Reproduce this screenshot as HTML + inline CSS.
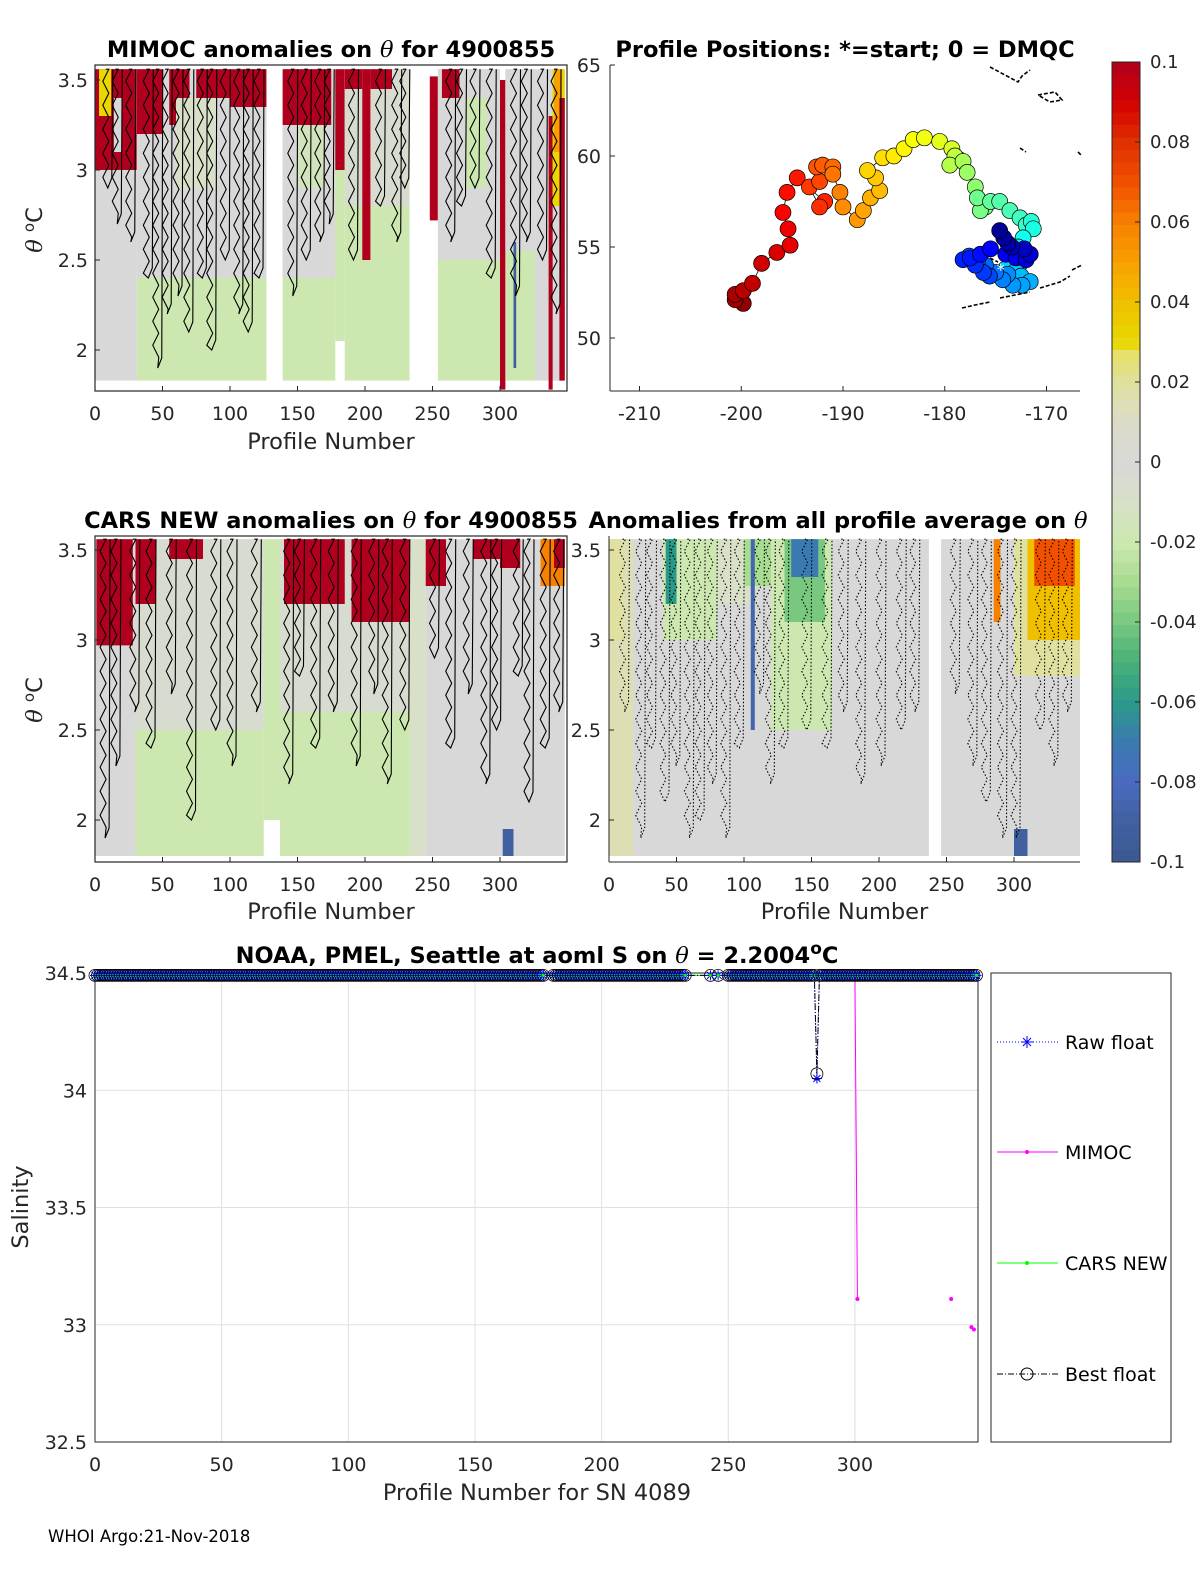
<!DOCTYPE html>
<html><head><meta charset="utf-8"><style>
body{margin:0;background:#fff}
svg{display:block;font-family:"DejaVu Sans","Liberation Sans",sans-serif}
</style></head><body>
<svg id="fig" width="1200" height="1575" viewBox="0 0 1200 1575" xmlns="http://www.w3.org/2000/svg">
<rect width="1200" height="1575" fill="#fff"/>
<defs>
<clipPath id="c1"><rect x="95" y="65" width="472" height="326"/></clipPath>
<clipPath id="c3"><rect x="95" y="536" width="472" height="326"/></clipPath>
<clipPath id="c4"><rect x="609" y="536" width="471" height="326"/></clipPath>
</defs>
<g id="p1" clip-path="url(#c1)"></g>
<g id="p3" clip-path="url(#c3)"></g>
<g id="p4" clip-path="url(#c4)"></g>
<g id="map"></g>
<g id="cbar"></g>
<g id="bot"></g>
<g id="axes"></g>
<text x="48" y="1542" font-size="16.5" fill="#000">WHOI Argo:21-Nov-2018</text>
</svg>
<script>
// ---------- heatmap data: [profileStart, profileEnd, thetaLow, thetaHigh, anomaly]
const mimocPatches = [
[0,31,1.83,3.56,0],[0,31,3.0,3.56,0.1],[3,12,3.3,3.56,0.03],[14,20,3.1,3.4,0],
[31,127,1.83,3.56,-0.02],[31,127,2.4,3.56,0],[31,50,3.2,3.56,0.1],[55,70,3.25,3.56,0.1],[75,100,3.4,3.56,0.1],[100,127,3.35,3.56,0.1],[60,90,2.9,3.4,-0.01],
[139,178,1.83,3.56,-0.02],[139,178,2.4,3.56,0],[139,175,3.25,3.56,0.1],[150,170,2.9,3.25,-0.015],
[178,185,2.05,3.56,-0.02],[178,185,3.0,3.56,0.1],
[185,233,1.83,3.56,-0.02],[185,233,2.8,3.56,-0.005],[198,204,2.5,3.56,0.1],[185,198,3.45,3.56,0.1],[204,220,3.45,3.56,0.1],
[248,254,2.72,3.52,0.1],
[254,300,1.83,3.56,-0.02],[254,300,2.5,3.56,0],[257,270,3.4,3.56,0.1],[275,290,2.9,3.4,-0.02],
[300,304,1.78,3.5,0.1],
[304,326,1.83,3.56,-0.02],[304,326,2.55,3.56,0],[310,312,1.9,2.6,-0.09],
[326,348,1.83,3.56,0],[336,339,1.78,3.3,0.1],[339,348,2.8,3.56,0.03],[340,346,3.1,3.56,0.05],[344,348,1.83,3.4,0.1]
];
const carsPatches = [
[0,30,1.8,3.56,0],[1,28,2.97,3.56,0.1],
[30,125,1.8,3.56,-0.02],[30,125,2.5,3.56,-0.005],[30,45,3.2,3.56,0.1],[55,80,3.45,3.56,0.1],
[125,137,2.0,3.56,-0.02],
[137,233,1.8,3.56,-0.02],[137,233,2.6,3.56,-0.005],[140,185,3.2,3.56,0.1],[190,233,3.1,3.56,0.1],
[233,245,1.8,3.56,-0.01],
[245,300,1.8,3.56,0],[245,260,3.3,3.56,0.1],[280,300,3.45,3.56,0.1],
[300,348,1.8,3.56,0],[300,315,3.4,3.56,0.1],[330,348,3.3,3.56,0.06],[340,348,3.4,3.56,0.1],[302,310,1.8,1.95,-0.09]
];
const avgPatches = [
[0,349,1.8,3.56,0],[0,18,1.8,3.56,0.015],[0,10,3.0,3.56,0.02],
[40,80,3.0,3.56,-0.02],[42,50,3.2,3.56,-0.06],[80,110,3.2,3.56,-0.01],[100,120,3.3,3.56,-0.03],[105,108,2.5,3.56,-0.085],
[120,165,2.5,3.56,-0.02],[130,160,3.1,3.56,-0.04],[135,155,3.35,3.56,-0.07],
[237,246,1.7,3.6,null],
[285,290,3.1,3.56,0.06],[300,349,2.8,3.56,0.02],[310,349,3.0,3.56,0.04],[315,345,3.3,3.56,0.07],[300,310,1.8,1.95,-0.09]
];
// contour-line traces: profile position and deepest theta reached
const mimocContourP = [8,15,25,38,45,52,60,68,78,85,95,105,112,120,145,155,165,172,190,210,222,228,262,270,280,292,310,318,330,340];
const mimocContourT = [2.9,2.7,2.6,2.4,1.9,2.2,2.3,2.1,2.4,2.0,2.5,2.2,2.1,2.4,2.3,2.5,2.6,2.7,2.5,2.8,2.6,2.9,2.6,2.8,2.9,2.4,2.3,2.6,2.5,2.2];
const carsContourP = [6,14,28,40,55,70,88,100,118,142,150,162,175,192,205,215,228,250,262,275,288,296,312,320,332,342];
const carsContourT = [1.9,2.3,2.6,2.4,2.7,2.0,2.5,2.3,2.6,2.2,2.8,2.4,2.6,2.3,2.7,2.2,2.5,2.9,2.4,2.7,2.2,2.5,2.8,2.1,2.4,2.6];
const avgContourP = [10,22,30,40,48,58,66,75,85,95,110,118,128,145,160,172,185,200,215,225,255,268,278,290,300,318,328,338];
const avgContourT = [2.6,1.9,2.4,2.1,2.3,1.9,2.0,2.2,1.9,2.4,2.7,2.2,2.4,2.5,2.4,2.6,2.2,2.3,2.5,2.6,2.7,2.3,2.1,1.9,1.9,2.5,2.3,2.6];
const thetaTicks = [2,2.5,3,3.5];
const profTicks = [0,50,100,150,200,250,300];
// ---------- map data (longitude, latitude), ordered start -> end
const trackLon = [-174.6,-174.2,-173.8,-173.4,-172.2,-171.6,-172.0,-173.0,-174.0,-175.5,-176.5,-177.5,-178.2,-177.0,-176.2,-175.6,-176.8,-177.6,-176.0,-175.0,-174.3,-173.8,-173.3,-172.4,-171.6,-172.5,-173.0,-174.0,-175.0,-172.4,-172.0,-172.8,-172.3,-171.3,-171.5,-172.0,-172.6,-173.6,-174.6,-175.5,-176.8,-176.5,-176.0,-177.0,-177.8,-178.2,-179.5,-179.0,-178.6,-179.3,-180.5,-182.0,-183.1,-184.0,-185.0,-186.1,-187.6,-186.8,-186.4,-187.3,-188.0,-188.6,-190.0,-190.3,-191.0,-191.0,-192.0,-192.6,-192.3,-193.3,-192.3,-191.8,-194.5,-195.5,-195.9,-195.4,-195.2,-196.5,-198.0,-198.9,-199.8,-200.6,-200.6,-199.8];
const trackLat = [55.9,55.5,55.2,55.0,54.9,54.6,54.3,54.4,54.6,54.9,54.6,54.4,54.3,54.0,53.6,53.4,54.2,54.5,54.0,53.6,53.2,53.5,52.9,52.9,53.1,53.4,53.7,53.8,53.5,54.2,54.6,55.0,55.5,56.0,56.4,56.2,56.6,57.0,57.5,57.5,57.7,57.0,57.2,58.3,59.1,59.7,59.5,60.0,59.8,60.4,60.8,61.0,60.9,60.4,60.0,59.9,59.2,58.8,58.1,57.7,57.0,56.5,57.2,58.0,59.0,59.4,59.5,59.4,58.6,58.3,57.2,57.5,58.8,58.0,56.9,56.0,55.1,54.7,54.1,53.0,52.6,52.4,52.1,51.9];
const lonTicks = [-210,-200,-190,-180,-170];
const latTicks = [50,55,60,65];
// ---------- colorbar
const cbTicks = [0.1,0.08,0.06,0.04,0.02,0,-0.02,-0.04,-0.06,-0.08,-0.1];
// ---------- salinity chart
const gapProfiles = [178,179,180,234,235,236,237,238,239,240,241,242,244,245,247,248,249];
const rawOverride = {285:34.05};
const bestOverride = {285:34.07};
const baseSal = 34.49;
const mimocP = [300,301,338,346,347];
const mimocS = [34.49,33.11,33.11,32.99,32.98];
const salTicks = [32.5,33,33.5,34,34.5];

const NS="http://www.w3.org/2000/svg";
const TF=19, LF=22.5, HF=22.5;
function mk(parent,tag,attrs,txt){const e=document.createElementNS(NS,tag);for(const k in attrs)e.setAttribute(k,attrs[k]);if(txt!==undefined)e.textContent=txt;parent.appendChild(e);return e;}
const stops=[[-0.1,[60,88,144]],[-0.09,[64,96,160]],[-0.08,[74,106,192]],[-0.07,[58,122,176]],[-0.06,[42,154,136]],[-0.05,[72,176,120]],[-0.04,[120,200,128]],[-0.03,[168,220,144]],[-0.02,[204,232,176]],[-0.01,[216,224,200]],[0,[216,216,216]],[0.01,[220,220,200]],[0.02,[224,224,160]],[0.028,[232,224,96]],[0.03,[232,216,0]],[0.04,[240,192,0]],[0.05,[248,160,0]],[0.06,[248,128,0]],[0.07,[240,80,0]],[0.08,[224,48,0]],[0.09,[212,0,0]],[0.1,[176,0,30]]];
function cmap(v){v=Math.max(-0.1,Math.min(0.1,v));for(let i=0;i<stops.length-1;i++){const a=stops[i],b=stops[i+1];if(v<=b[0]){const t=(v-a[0])/(b[0]-a[0]);const c=a[1].map((x,j)=>Math.round(x+(b[1][j]-x)*t));return `rgb(${c})`;}}return 'rgb(176,0,30)';}

function heat(gid,patches,x0,cp,ct,dotted){
  const g=document.getElementById(gid);
  const xs=p=>x0+p*1.35, ys=t=>(gid==='p1'?80:550)+(3.5-t)*180;
  patches.forEach(pt=>{
    const r=mk(g,'rect',{x:xs(pt[0]),y:ys(pt[3]),width:xs(pt[1])-xs(pt[0]),height:ys(pt[2])-ys(pt[3]),fill:pt[4]===null?'#fff':cmap(pt[4])});
    
    
  });
  cp.forEach((p,i)=>{
    const x=xs(p),yb=ys(ct[i]),yt=ys(3.56);let d=`M${x},${yt}`;let k=0;
    for(let y=yt;y<yb;y+=12){k++;d+=` L${x+(k%2?3:-3)},${y}`;}
    d+=` L${x+2},${yb} L${x+6},${yb-10} L${x+7},${yt}`;
    const l=mk(g,'path',{d:d,fill:'none',stroke:'#000','stroke-width':1.1,'stroke-dasharray':dotted?'1.5,2':'none'});
    
    
  });
}
heat('p1',mimocPatches,95,mimocContourP,mimocContourT,false);
heat('p3',carsPatches,95,carsContourP,carsContourT,false);
heat('p4',avgPatches,609,avgContourP,avgContourT,true);

const ax=document.getElementById('axes');
function t(x,y,s,o){const e=mk(ax,'text',Object.assign({x:x,y:y,'font-size':TF,fill:'#262626'},o||{}),s);return e;}
function thetaPanel(x0,x1,y0,y1,yz,full,xlabelY,labx){
  if(full)mk(ax,'rect',{x:x0,y:y0,width:x1-x0,height:y1-y0,fill:'none',stroke:'#262626','stroke-width':1.2});
  else{mk(ax,'line',{x1:x0,y1:y0,x2:x0,y2:y1,stroke:'#262626'});mk(ax,'line',{x1:x0,y1:y1,x2:x1,y2:y1,stroke:'#262626'});}
  thetaTicks.forEach(v=>{const y=yz+(3.5-v)*180;mk(ax,'line',{x1:x0,y1:y,x2:x0+5,y2:y,stroke:'#262626'});t(labx,y+7,String(v),{'text-anchor':'end'});});
  profTicks.forEach(p=>{const x=x0+p*1.35;mk(ax,'line',{x1:x,y1:y1,x2:x,y2:y1-5,stroke:'#262626'});t(x,y1+29,String(p),{'text-anchor':'middle'});});
  if(xlabelY)t((x0+x1)/2,xlabelY,'Profile Number',{'text-anchor':'middle','font-size':LF});
}
thetaPanel(95,567,65,391,80,true,449,88);
thetaPanel(95,567,536,862,550,true,919,88);
thetaPanel(609,1080,536,862,550,false,919,601);
function thLabel(y){const e=mk(ax,'text',{x:0,y:0,'font-size':LF,fill:'#262626','text-anchor':'middle',transform:`translate(42,${y}) rotate(-90)`});e.innerHTML='<tspan font-style="italic" font-family="DejaVu Serif">θ</tspan> <tspan dy="-8" font-size="15">o</tspan><tspan dy="8">C</tspan>';}
thLabel(230);thLabel(700);
function title(x,y,html){const e=mk(ax,'text',{x:x,y:y,'font-size':HF,'font-weight':'bold',fill:'#000','text-anchor':'middle'});e.innerHTML=html;}
const th='<tspan font-style="italic" font-weight="normal" font-family="DejaVu Serif">θ</tspan>';
title(331,57,'MIMOC anomalies on '+th+'  for 4900855');
title(845,57,'Profile Positions: *=start; 0 = DMQC');
title(331,528,'CARS NEW anomalies on '+th+' for 4900855');
title(838,528,'Anomalies from all profile average on '+th);
title(537,963,'NOAA, PMEL, Seattle at aoml S on '+th+' = 2.2004<tspan dy="-9" font-size="17">o</tspan><tspan dy="9">C</tspan>');

// map
const mg=document.getElementById('map');
const lx=l=>610+(l+212.9)*10.175, ly=l=>65+(65-l)*18.2;
mk(mg,'line',{x1:610,y1:65,x2:610,y2:391,stroke:'#262626'});mk(mg,'line',{x1:610,y1:391,x2:1080,y2:391,stroke:'#262626'});
lonTicks.forEach(v=>{mk(mg,'line',{x1:lx(v),y1:391,x2:lx(v),y2:386,stroke:'#262626'});mk(mg,'text',{x:lx(v),y:420,'font-size':TF,fill:'#262626','text-anchor':'middle'},String(v));});
latTicks.forEach(v=>{mk(mg,'line',{x1:610,y1:ly(v),x2:615,y2:ly(v),stroke:'#262626'});mk(mg,'text',{x:601,y:ly(v)+7,'font-size':TF,fill:'#262626','text-anchor':'end'},String(v));});
[ 'M990,67 L1005,75 L1018,82 L1022,76 L1030,70', 'M1038,95 L1055,92 L1062,100 L1050,102 Z', 'M1020,148 L1026,152','M1078,152 L1082,156',
  'M962,308 L975,305 L990,302','M1000,298 L1015,295 L1030,292','M1040,288 L1060,282 L1070,276','M1072,270 L1082,265','M990,258 L998,262'].forEach(d=>{mk(mg,'path',{d:d,fill:'none',stroke:'#000','stroke-width':1.6,'stroke-dasharray':'4,2'});});
const pts=trackLon.map((l,i)=>[lx(l),ly(trackLat[i])]);
mk(mg,'polyline',{points:pts.map(p=>p.join(',')).join(' '),fill:'none',stroke:'#000','stroke-width':0.8});
function jet(tt){const c=v=>Math.round(255*Math.max(0,Math.min(1,v)));return `rgb(${c(1.5-Math.abs(4*tt-3))},${c(1.5-Math.abs(4*tt-2))},${c(1.5-Math.abs(4*tt-1))})`;}
const n=trackLon.length;
for(let i=n-1;i>=0;i--){
  const c=mk(mg,'circle',{cx:pts[i][0],cy:pts[i][1],r:8,fill:jet(i/(n-1)*0.96+0.02),stroke:'#000','stroke-width':0.7});
  
  
}
mk(mg,'text',{x:lx(-174.5),y:ly(53.8)+6,'font-size':16,fill:'#fff','text-anchor':'middle'},'*');

// colorbar
const cb=document.getElementById('cbar');
const cy=v=>62+(0.1-v)*4000;
for(let k=0;k<64;k++){const v0=-0.1+k*0.2/64;mk(cb,'rect',{x:1112,y:cy(v0+0.2/64),width:28,height:800/64+0.5,fill:cmap(v0+0.1/64)});}
mk(cb,'rect',{x:1112,y:62,width:28,height:800,fill:'none',stroke:'#262626'});
cbTicks.forEach(v=>{mk(cb,'line',{x1:1135,y1:cy(v),x2:1140,y2:cy(v),stroke:'#262626'});mk(cb,'text',{x:1150,y:cy(v)+6,'font-size':18,fill:'#262626'},String(v));});

// salinity chart
const bg=document.getElementById('bot');
const bx=p=>95+p*2.533, by=s=>973+(34.5-s)*234.5;
mk(bg,'rect',{x:95,y:973,width:883,height:469,fill:'#fff',stroke:'#262626'});
salTicks.forEach(s=>{mk(bg,'line',{x1:95,y1:by(s),x2:978,y2:by(s),stroke:'#e0e0e0'});mk(bg,'text',{x:87,y:by(s)+7,'font-size':TF,fill:'#262626','text-anchor':'end'},String(s));});
profTicks.forEach(p=>{mk(bg,'line',{x1:bx(p),y1:973,x2:bx(p),y2:1442,stroke:'#e0e0e0'});mk(bg,'text',{x:bx(p),y:1471,'font-size':TF,fill:'#262626','text-anchor':'middle'},String(p));});
mk(bg,'rect',{x:95,y:973,width:883,height:469,fill:'none',stroke:'#262626'});
mk(bg,'text',{x:537,y:1500,'font-size':LF,fill:'#262626','text-anchor':'middle'},'Profile Number for SN 4089');
mk(bg,'text',{x:0,y:0,'font-size':LF,fill:'#262626','text-anchor':'middle',transform:'translate(28,1207) rotate(-90)'},'Salinity');
const profiles=[];for(let p=0;p<=348;p++)if(!gapProfiles.includes(p))profiles.push(p);
const raw=profiles.map(p=>rawOverride[p]!==undefined?rawOverride[p]:baseSal);
const best=profiles.map(p=>bestOverride[p]!==undefined?bestOverride[p]:baseSal);
mk(bg,'polyline',{points:profiles.map((p,i)=>bx(p)+','+by(raw[i])).join(' '),fill:'none',stroke:'#0000ff','stroke-dasharray':'1,2'});
mk(bg,'polyline',{points:profiles.map((p,i)=>bx(p)+','+by(baseSal)).join(' '),fill:'none',stroke:'#00ff00'});
mk(bg,'polyline',{points:profiles.map((p,i)=>bx(p)+','+by(best[i])).join(' '),fill:'none',stroke:'#000','stroke-dasharray':'6,2,1,2'});
mk(bg,'polyline',{points:mimocP.slice(0,2).map((p,i)=>bx(p)+','+by(mimocS[i])).join(' '),fill:'none',stroke:'#ff00ff'});
mimocP.forEach((p,i)=>{const c=mk(bg,'circle',{cx:bx(p),cy:by(mimocS[i]),r:2,fill:'#ff00ff'});});
profiles.forEach((p,i)=>{
  const x=bx(p),y=by(raw[i]);
  const a=mk(bg,'path',{d:`M${x-5},${y}H${x+5}M${x},${y-5}V${y+5}M${x-3.5},${y-3.5}L${x+3.5},${y+3.5}M${x-3.5},${y+3.5}L${x+3.5},${y-3.5}`,stroke:'#0000ff','stroke-width':1});
  
  
  const g=mk(bg,'circle',{cx:x,cy:by(baseSal),r:1.6,fill:'#00ff00'});
  
  
  const b=mk(bg,'circle',{cx:x,cy:by(best[i]),r:6,fill:'none',stroke:'#000','stroke-width':0.8});
  
  
});
// legend
mk(bg,'rect',{x:991,y:973,width:180,height:469,fill:'#fff',stroke:'#262626'});
const leg=[['Raw float',1042,'#0000ff','1,2','star'],['MIMOC',1152,'#ff00ff','','dot'],['CARS NEW',1263,'#00ff00','','dot'],['Best float',1374,'#000','6,2,1,2','circ']];
leg.forEach(L=>{
  const y=L[1];mk(bg,'line',{x1:997,y1:y,x2:1058,y2:y,stroke:L[2],'stroke-dasharray':L[3]});
  if(L[4]==='star')mk(bg,'path',{d:`M1021,${y}h12M1027,${y-6}v12M1023,${y-4}l8,8M1023,${y+4}l8,-8`,stroke:L[2]});
  else if(L[4]==='dot')mk(bg,'circle',{cx:1027,cy:y,r:2,fill:L[2]});
  else mk(bg,'circle',{cx:1027,cy:y,r:6,fill:'none',stroke:'#000'});
  const e=mk(bg,'text',{x:1065,y:y+7,'font-size':19,fill:'#000'},L[0]);
  
  
});
</script>
</body></html>
